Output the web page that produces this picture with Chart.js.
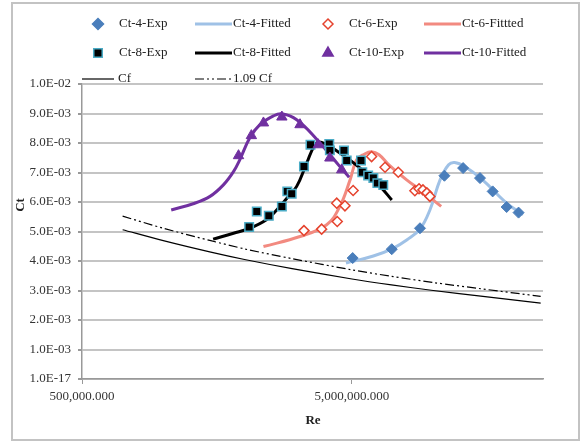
<!DOCTYPE html>
<html>
<head>
<meta charset="utf-8">
<script src="https://cdn.jsdelivr.net/npm/chart.js@4"></script>
<style>
  body { margin: 0; background: #fff; }
</style>
</head>
<body>
<canvas id="chart" width="587" height="444"></canvas>
<script>
// values (Re on a log axis, Ct linear)
const ct4ExpRe = [5.03e6, 7.02e6, 8.93e6, 1.10e7, 1.29e7, 1.49e7, 1.66e7, 1.87e7, 2.07e7];
const ct4ExpCt = [4.10e-3, 4.40e-3, 5.11e-3, 6.89e-3, 7.15e-3, 6.81e-3, 6.36e-3, 5.83e-3, 5.64e-3];
const ct4FitRe = [4.75e6, 6.0e6, 7.1e6, 8.0e6, 8.93e6, 9.72e6, 1.06e7, 1.14e7, 1.20e7, 1.31e7, 1.53e7, 1.87e7, 2.15e7];
const ct4FitCt = [3.93e-3, 4.17e-3, 4.43e-3, 4.72e-3, 5.08e-3, 5.73e-3, 6.75e-3, 7.26e-3, 7.34e-3, 7.20e-3, 6.73e-3, 5.96e-3, 5.57e-3];

const ct6ExpRe = [3.32e6, 3.86e6, 4.41e6, 4.39e6, 4.71e6, 5.05e6, 5.91e6, 6.63e6, 7.42e6, 8.55e6, 8.86e6, 9.16e6, 9.47e6, 9.72e6];
const ct6ExpCt = [5.03e-3, 5.08e-3, 5.34e-3, 5.96e-3, 5.87e-3, 6.39e-3, 7.54e-3, 7.18e-3, 7.01e-3, 6.38e-3, 6.45e-3, 6.41e-3, 6.31e-3, 6.19e-3];
const ct6FitRe = [2.35e6, 3.21e6, 4.03e6, 4.51e6, 4.92e6, 5.2e6, 5.55e6, 5.91e6, 6.3e6, 6.9e6, 7.97e6, 9.1e6, 1.07e7];
const ct6FitCt = [4.49e-3, 4.83e-3, 5.23e-3, 5.85e-3, 6.75e-3, 7.43e-3, 7.62e-3, 7.70e-3, 7.60e-3, 7.23e-3, 6.75e-3, 6.36e-3, 5.85e-3];

const ct8ExpRe = [2.08e6, 2.22e6, 2.46e6, 2.75e6, 2.88e6, 2.99e6, 3.32e6, 3.51e6, 4.12e6, 4.14e6, 4.67e6, 4.78e6, 5.40e6, 5.46e6, 5.74e6, 6.0e6, 6.21e6, 6.53e6];
const ct8ExpCt = [5.15e-3, 5.68e-3, 5.53e-3, 5.85e-3, 6.36e-3, 6.28e-3, 7.20e-3, 7.94e-3, 7.97e-3, 7.75e-3, 7.75e-3, 7.41e-3, 7.41e-3, 7.01e-3, 6.90e-3, 6.81e-3, 6.64e-3, 6.58e-3];
const ct8FitRe = [1.53e6, 1.82e6, 2.09e6, 2.41e6, 2.63e6, 2.87e6, 3.12e6, 3.40e6, 3.65e6, 3.86e6, 4.51e6, 5.36e6, 6.35e6, 7.02e6];
const ct8FitCt = [4.74e-3, 4.94e-3, 5.11e-3, 5.40e-3, 5.73e-3, 6.13e-3, 6.53e-3, 7.32e-3, 7.94e-3, 8.02e-3, 7.66e-3, 7.15e-3, 6.53e-3, 6.07e-3];

const ct10ExpRe = [1.90e6, 2.12e6, 2.35e6, 2.75e6, 3.21e6, 3.75e6, 4.14e6, 4.58e6];
const ct10ExpCt = [7.57e-3, 8.25e-3, 8.68e-3, 8.88e-3, 8.62e-3, 7.94e-3, 7.49e-3, 7.09e-3];
const ct10FitRe = [1.07e6, 1.29e6, 1.49e6, 1.67e6, 1.82e6, 1.92e6, 2.09e6, 2.28e6, 2.56e6, 2.75e6, 3.12e6, 3.70e6, 4.51e6, 4.88e6];
const ct10FitCt = [5.73e-3, 5.94e-3, 6.19e-3, 6.58e-3, 7.03e-3, 7.43e-3, 8.17e-3, 8.62e-3, 8.92e-3, 8.99e-3, 8.79e-3, 8.13e-3, 7.20e-3, 6.84e-3];

const cfRe = [7.07e5, 1e6, 1.5e6, 2e6, 3e6, 5e6, 7e6, 1e7, 1.5e7, 2.5e7];
const cfCt = [5.06e-3, 4.69e-3, 4.30e-3, 4.05e-3, 3.74e-3, 3.39e-3, 3.19e-3, 3.00e-3, 2.81e-3, 2.57e-3];
const cf109Ct = [5.52e-3, 5.11e-3, 4.69e-3, 4.41e-3, 4.08e-3, 3.70e-3, 3.48e-3, 3.27e-3, 3.06e-3, 2.80e-3];

const xTickValues = [5e5, 5e6];
const xMin = 5e5, xMax = 2.55e7;
const yMin = 0, yMax = 0.01, yStep = 0.001;

const FONT = '"Liberation Serif", "Times New Roman", serif';
const BLUE = "#4a7ebb", LBLUE = "#9fc1e6", RED = "#e5432e", SALMON = "#f28a80",
      PURPLE = "#7030a0", CYAN = "#4bacc6";

function pts(xs, ys) {
    return xs.map((x, i) => ({ x: x, y: ys[i] }));
}

function sci(v) {
    if (v === 0) return "1.0E-17";
    let s = Number(v).toExponential(1).toUpperCase();
    return s.replace(/E([+-])(\d)$/, "E$10$2");
}

function fitLine(label, data, color, order) {
    return { label: label, data: data, showLine: true, borderColor: color, backgroundColor: color,
             borderWidth: 3, pointRadius: 0, tension: 0.4, order: order };
}

// legend drawn by hand, laid out like the reference (three rows, four columns)
const legendRows = [
    [
        { label: "Ct-4-Exp", kind: "point", style: "rectRot", r: 5.5, fill: BLUE, stroke: BLUE, x: 98, y: 24 },
        { label: "Ct-4-Fitted", kind: "line", color: LBLUE, w: 3, x: 195, y: 24 },
        { label: "Ct-6-Exp", kind: "point", style: "rectRot", r: 5, fill: "#fff", stroke: RED, x: 328, y: 24 },
        { label: "Ct-6-Fittted", kind: "line", color: SALMON, w: 3, x: 424, y: 24 }
    ],
    [
        { label: "Ct-8-Exp", kind: "point", style: "rect", r: 6, fill: "#000", stroke: CYAN, x: 98, y: 53 },
        { label: "Ct-8-Fitted", kind: "line", color: "#000", w: 3, x: 195, y: 53 },
        { label: "Ct-10-Exp", kind: "point", style: "triangle", r: 6, fill: PURPLE, stroke: PURPLE, x: 328, y: 53 },
        { label: "Ct-10-Fitted", kind: "line", color: PURPLE, w: 3, x: 424, y: 53 }
    ],
    [
        { label: "Cf", kind: "line", color: "#000", w: 1.2, x: 82, y: 79, len: 32 },
        { label: "1.09 Cf", kind: "line", color: "#000", w: 1.2, dash: [9, 3, 2, 3, 2, 3], x: 195, y: 79 }
    ]
];

const decorations = {
    id: "decorations",
    beforeDraw(chart) {
        const ctx = chart.ctx;
        ctx.save();
        ctx.fillStyle = "#fff";
        ctx.fillRect(0, 0, chart.width, chart.height);
        ctx.strokeStyle = "#c3c3c3";
        ctx.lineWidth = 2;
        ctx.strokeRect(12, 3, 567, 437);
        ctx.restore();
    },
    afterDraw(chart) {
        const ctx = chart.ctx;
        ctx.save();
        ctx.textBaseline = "middle";
        ctx.textAlign = "left";
        ctx.font = "13px " + FONT;
        for (const row of legendRows) {
            for (const it of row) {
                if (it.kind === "point") {
                    ctx.fillStyle = it.fill;
                    ctx.strokeStyle = it.stroke;
                    ctx.lineWidth = 1.5;
                    Chart.helpers.drawPoint(ctx, { pointStyle: it.style, radius: it.r, rotation: 0, borderWidth: 1.5 }, it.x, it.y);
                    ctx.fillStyle = "#222";
                    ctx.fillText(it.label, it.x + 21, it.y);
                } else {
                    const len = it.len || 37;
                    ctx.strokeStyle = it.color;
                    ctx.lineWidth = it.w;
                    ctx.setLineDash(it.dash || []);
                    ctx.beginPath();
                    ctx.moveTo(it.x, it.y);
                    ctx.lineTo(it.x + len, it.y);
                    ctx.stroke();
                    ctx.setLineDash([]);
                    ctx.fillStyle = "#222";
                    ctx.fillText(it.label, it.x + len + (it.len ? 4 : 1), it.y);
                }
            }
        }
        // axis titles
        ctx.font = "bold 13px " + FONT;
        ctx.fillStyle = "#222";
        ctx.textAlign = "center";
        ctx.fillText("Re", 313, 421);
        ctx.translate(21, 205);
        ctx.rotate(-Math.PI / 2);
        ctx.fillText("Ct", 0, 0);
        ctx.restore();
    }
};

new Chart(document.getElementById("chart").getContext("2d"), {
    type: "scatter",
    data: {
        datasets: [
            { label: "Ct-10-Exp", data: pts(ct10ExpRe, ct10ExpCt), pointStyle: "triangle", pointRadius: 6,
              backgroundColor: PURPLE, borderColor: PURPLE, borderWidth: 1, order: 1 },
            { label: "Ct-8-Exp", data: pts(ct8ExpRe, ct8ExpCt), pointStyle: "rect", pointRadius: 6,
              backgroundColor: "#000", borderColor: CYAN, borderWidth: 1.5, order: 2 },
            { label: "Ct-6-Exp", data: pts(ct6ExpRe, ct6ExpCt), pointStyle: "rectRot", pointRadius: 5,
              backgroundColor: "#fff", borderColor: RED, borderWidth: 1.5, order: 3 },
            { label: "Ct-4-Exp", data: pts(ct4ExpRe, ct4ExpCt), pointStyle: "rectRot", pointRadius: 5.5,
              backgroundColor: BLUE, borderColor: BLUE, borderWidth: 1, order: 4 },
            fitLine("Ct-10-Fitted", pts(ct10FitRe, ct10FitCt), PURPLE, 5),
            fitLine("Ct-8-Fitted", pts(ct8FitRe, ct8FitCt), "#000", 6),
            fitLine("Ct-6-Fittted", pts(ct6FitRe, ct6FitCt), SALMON, 7),
            fitLine("Ct-4-Fitted", pts(ct4FitRe, ct4FitCt), LBLUE, 8),
            { label: "Cf", data: pts(cfRe, cfCt), showLine: true, borderColor: "#000", borderWidth: 1.2,
              pointRadius: 0, tension: 0.3, order: 9 },
            { label: "1.09 Cf", data: pts(cfRe, cf109Ct), showLine: true, borderColor: "#000", borderWidth: 1.2,
              borderDash: [9, 3, 2, 3, 2, 3], pointRadius: 0, tension: 0.3, order: 10 }
        ]
    },
    options: {
        responsive: false,
        animation: false,
        layout: { padding: { left: 0, top: 84, right: 44, bottom: 0 } },
        plugins: { legend: { display: false }, tooltip: { enabled: false } },
        scales: {
            x: {
                type: "logarithmic",
                min: xMin,
                max: xMax,
                afterBuildTicks: function (scale) {
                    scale.ticks = xTickValues.map(v => ({ value: v }));
                },
                afterFit: function (scale) { scale.height = 65; },
                ticks: {
                    autoSkip: false,
                    maxRotation: 0,
                    padding: 5,
                    color: "#333",
                    font: { family: FONT, size: 13 },
                    callback: v => Number(v).toLocaleString("en-US", { minimumFractionDigits: 3, maximumFractionDigits: 3 })
                },
                grid: { drawOnChartArea: false, drawTicks: true, tickLength: 5, color: "#999" },
                border: { color: "#999", width: 1.5 }
            },
            y: {
                type: "linear",
                min: yMin,
                max: yMax,
                afterFit: function (scale) { scale.width = 82; },
                ticks: {
                    stepSize: yStep,
                    padding: 7,
                    color: "#333",
                    font: { family: FONT, size: 13 },
                    callback: sci
                },
                grid: { color: "#c4c4c4", lineWidth: 2, tickLength: 4, tickColor: "#999" },
                border: { color: "#999", width: 1.5 }
            }
        }
    },
    plugins: [decorations]
});
</script>
</body>
</html>
